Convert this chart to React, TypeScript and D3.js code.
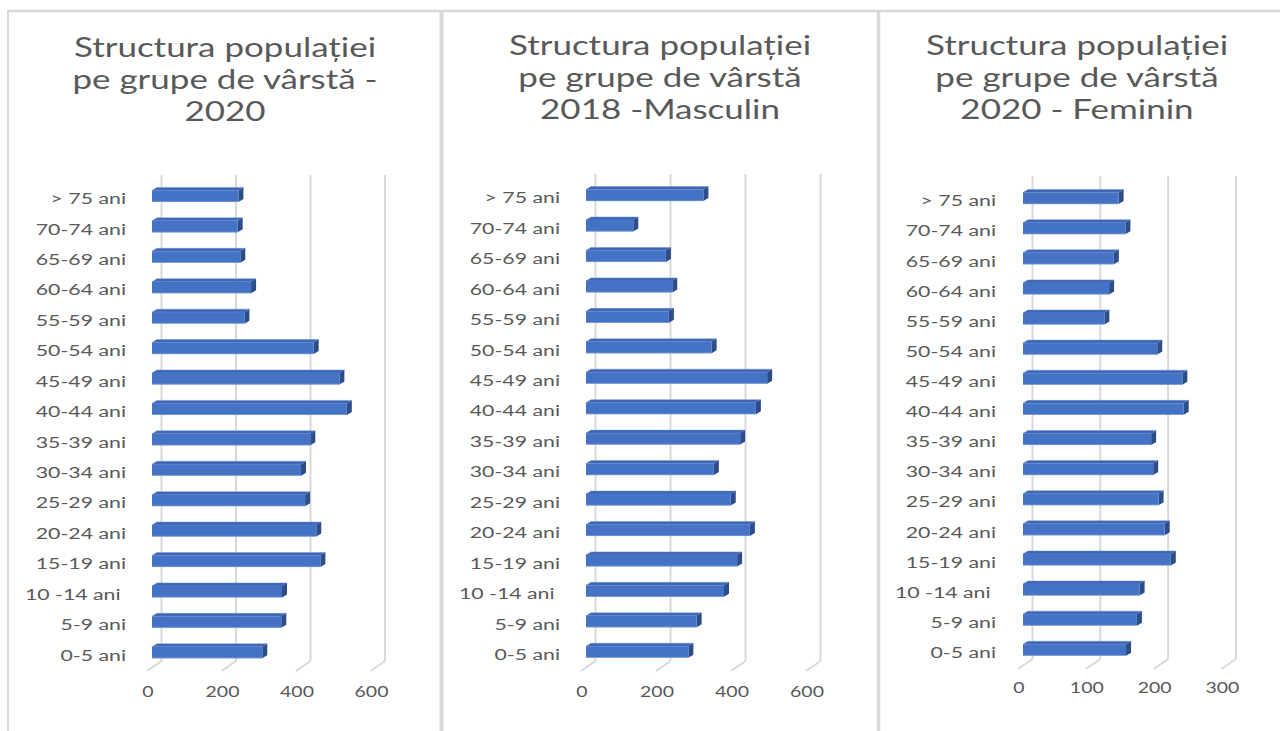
import React from "react";
import * as d3 from "d3";

const categories = ["0-5 ani", "5-9 ani", "10 -14 ani ", "15-19 ani", "20-24 ani", "25-29 ani", "30-34 ani", "35-39 ani", "40-44 ani", "45-49 ani", "50-54 ani", "55-59 ani", "60-64 ani", "65-69 ani", "70-74 ani", "> 75 ani"];
const total2020 = [296, 347, 349, 452, 441, 411, 400, 425, 523, 503, 434, 248, 266, 237, 230, 232];
const masculin2018 = [273, 295, 368, 403, 437, 386, 341, 411, 453, 483, 335, 221, 230, 213, 126, 313];
const feminin2020 = [152, 168, 172, 218, 209, 200, 192, 189, 237, 235, 198, 120, 127, 134, 151, 141];
const ticks600 = [0, 200, 400, 600];
const ticks300 = [0, 100, 200, 300];
const title1 = ["Structura populației", "pe grupe de vârstă -", "2020"];
const title2 = ["Structura populației", "pe grupe de vârstă", "2018 -Masculin"];
const title3 = ["Structura populației", "pe grupe de vârstă", "2020 - Feminin"];

const TEXT = "#595959";
const GRID = "#d9d9d9";
const FONT = "Lato, 'Open Sans', sans-serif";

type PanelProps = {
  values: number[];
  ticks: number[];
  title: string[];
  cx: number;
  titleY: number;
  x0: number;
  x1: number;
  yTop: number;
  yBottom: number;
  gridTop: number;
  gridBottom: number;
  labelX: number;
  tickY: number;
};

function SText({ x, y, anchor, size, sx, children }: any) {
  return (
    <text
      transform={`translate(${x},${y}) scale(${sx},1)`}
      textAnchor={anchor}
      fontSize={size}
      fill={TEXT}
      fontFamily={FONT}
      style={{ whiteSpace: "pre" }}
    >
      {children}
    </text>
  );
}

function Panel(p: PanelProps) {
  const dom = [0, p.ticks[p.ticks.length - 1]];
  const x = d3.scaleLinear().domain(dom).range([p.x0, p.x1]);
  const y = d3.scalePoint<string>().domain(categories.slice().reverse()).range([p.yTop, p.yBottom]);
  const h = 11.5;
  const dx = 5;
  const dy = -3;
  const gdx = 9.5;
  return (
    <g>
      {p.title.map((t, i) => (
        <SText key={i} x={p.cx} y={p.titleY + i * 32} anchor="middle" size={26.5} sx={1.32}>
          {t}
        </SText>
      ))}
      {p.ticks.map((t) => {
        const gx = x(t) + gdx;
        return (
          <g key={t}>
            <line x1={gx} x2={gx} y1={p.gridTop} y2={p.gridBottom} stroke={GRID} strokeWidth={2} />
            <line x1={gx} x2={gx - 14.5} y1={p.gridBottom} y2={p.gridBottom + 10} stroke={GRID} strokeWidth={2} />
            <SText x={x(t) - 4} y={p.tickY} anchor="middle" size={15} sx={1.3}>
              {String(t)}
            </SText>
          </g>
        );
      })}
      {categories.map((c, i) => {
        const cy = y(c)!;
        const top = cy - h / 2;
        const xs = x(0);
        const xe = x(p.values[i]);
        return (
          <g key={c}>
            <polygon
              points={`${xs},${top} ${xs + dx},${top + dy} ${xe + dx},${top + dy} ${xe},${top}`}
              fill="#3d66b5"
              stroke="#6f8fd0"
              strokeWidth={0.5}
            />
            <polygon
              points={`${xe},${top} ${xe + dx},${top + dy} ${xe + dx},${top + h + dy} ${xe},${top + h}`}
              fill="#2c4c8a"
            />
            <rect x={xs} y={top} width={xe - xs} height={h} fill="#4472c4" />
            <line x1={xs} x2={xe} y1={top + h - 0.3} y2={top + h - 0.3} stroke="#8fa9dc" strokeWidth={0.6} />
            <SText x={p.labelX} y={cy + 8} anchor="end" size={16} sx={1.33}>
              {c}
            </SText>
          </g>
        );
      })}
    </g>
  );
}

export default function App() {
  return (
    <svg
      width={1280}
      height={731}
      style={{ position: "absolute", left: 0, top: 0, background: "#fff" }}
    >
      <rect x={0} y={0} width={1280} height={731} fill="#fff" />
      <line x1={7} x2={1280} y1={11} y2={11} stroke={GRID} strokeWidth={2.5} />
      <line x1={8} x2={8} y1={10} y2={731} stroke={GRID} strokeWidth={2} />
      <line x1={441.5} x2={441.5} y1={10} y2={731} stroke={GRID} strokeWidth={4} />
      <line x1={878.5} x2={878.5} y1={10} y2={731} stroke={GRID} strokeWidth={3.5} />
      <Panel
        values={total2020}
        ticks={ticks600}
        title={title1}
        cx={225}
        titleY={57}
        x0={152}
        x1={375.5}
        yTop={196.2}
        yBottom={652.5}
        gridTop={175}
        gridBottom={661}
        labelX={126}
        tickY={697}
      />
      <Panel
        values={masculin2018}
        ticks={ticks600}
        title={title2}
        cx={660}
        titleY={55}
        x0={586}
        x1={811}
        yTop={195.3}
        yBottom={652}
        gridTop={174}
        gridBottom={661}
        labelX={560}
        tickY={697}
      />
      <Panel
        values={feminin2020}
        ticks={ticks300}
        title={title3}
        cx={1077}
        titleY={55}
        x0={1023}
        x1={1226.4}
        yTop={198.3}
        yBottom={650}
        gridTop={176}
        gridBottom={659}
        labelX={996}
        tickY={693}
      />
    </svg>
  );
}
